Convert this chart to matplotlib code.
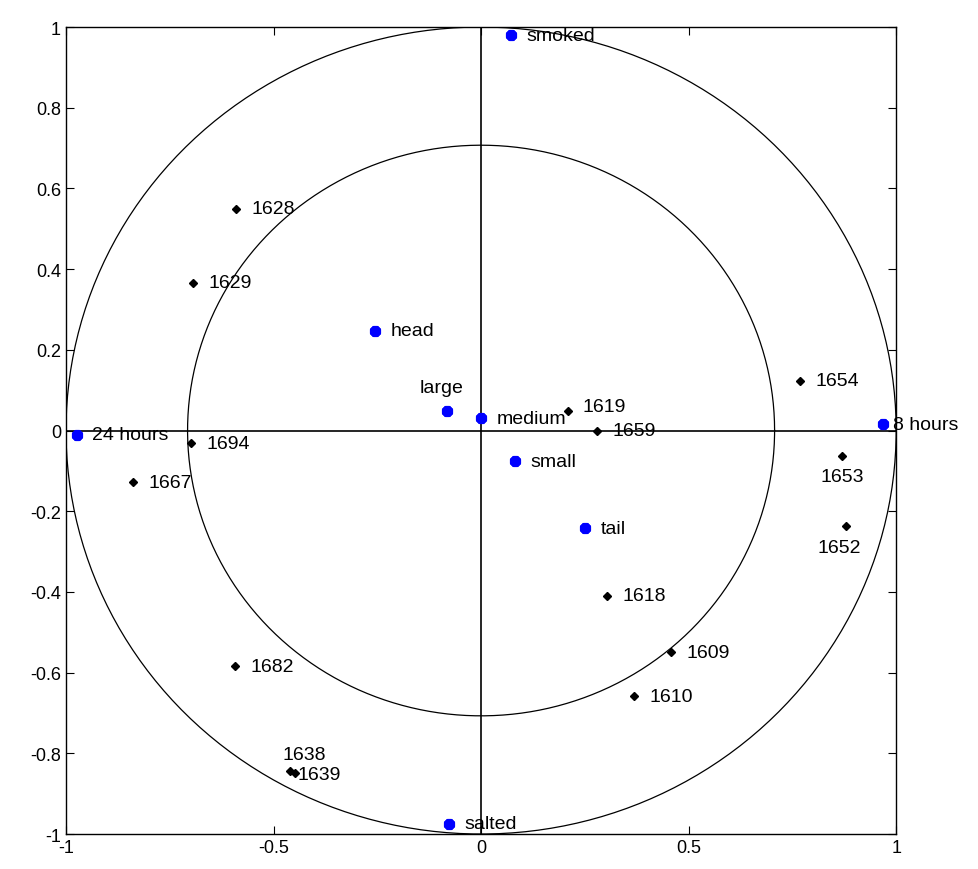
import numpy as np
import matplotlib.pyplot as plt

plt.rcParams['font.family'] = ['Liberation Sans', 'DejaVu Sans']

# variable loadings (blue markers)
var_names = ["smoked", "24 hours", "8 hours", "head", "large", "medium", "small", "tail", "salted"]
var_x = [0.072, -0.973, 0.969, -0.255, -0.082, 0.000, 0.082, 0.251, -0.077]
var_y = [0.980, -0.011, 0.016, 0.247, 0.048, 0.031, -0.076, -0.242, -0.975]

# sample scores (black diamonds)
obs_names = ["1628", "1629", "1654", "1619", "1659", "1694", "1667", "1653", "1652",
             "1618", "1609", "1610", "1682", "1638", "1639"]
obs_x = [-0.590, -0.694, 0.769, 0.210, 0.280, -0.699, -0.839, 0.870, 0.880,
         0.304, 0.458, 0.369, -0.593, -0.460, -0.448]
obs_y = [0.549, 0.366, 0.123, 0.048, -0.001, -0.031, -0.128, -0.063, -0.237,
         -0.410, -0.549, -0.659, -0.584, -0.844, -0.849]

# label placement: (dx, dy, ha, va) in points; default is to the right of the marker
default_off = (11, 0, 'left', 'center')
label_off = {
    "large": (-4, 11, 'center', 'bottom'),
    "1619": (10, 3, 'left', 'center'),
    "1653": (0, -9, 'center', 'top'),
    "1652": (-5, -9, 'center', 'top'),
    "1638": (10, 6, 'center', 'bottom'),
    "1639": (2, -1, 'left', 'center'),
    "8 hours": (7, 0, 'left', 'center'),
}

fig = plt.figure(figsize=(9.79, 8.7), dpi=100)
ax = fig.add_axes([0.0674, 0.0402, 0.848, 0.9276])

t = np.linspace(0, 2 * np.pi, 400)
for r in [1.0, np.sqrt(0.5)]:
    ax.plot(r * np.cos(t), r * np.sin(t), color='black', lw=0.9)
ax.plot([-1, 1], [0, 0], color='black', lw=1.2)
ax.plot([0, 0], [-1, 1], color='black', lw=1.2)

ax.plot(obs_x, obs_y, 'D', color='black', ms=4, ls='none')
ax.plot(var_x, var_y, marker=(8, 2, 0), color='blue', ms=8, mew=3, ls='none')

for names, xs, ys in [(var_names, var_x, var_y), (obs_names, obs_x, obs_y)]:
    for n, x, y in zip(names, xs, ys):
        dx, dy, ha, va = label_off.get(n, default_off)
        ax.annotate(n, (x, y), xytext=(dx, dy), textcoords='offset points',
                    ha=ha, va=va, fontsize=14)

ax.set_xlim(-1, 1)
ax.set_ylim(-1, 1)
ax.set_xticks([-1, -0.5, 0, 0.5, 1])
ax.set_xticklabels(['-1', '-0.5', '0', '0.5', '1'])
yt = np.round(np.arange(-1, 1.01, 0.2), 1)
ax.set_yticks(yt)
ax.set_yticklabels(['%g' % v if v != 0 else '0' for v in yt])
ax.tick_params(direction='in', top=True, right=True, labelsize=13, length=6)
for s in ax.spines.values():
    s.set_linewidth(1.0)

fig.savefig("out.png", dpi=100)
